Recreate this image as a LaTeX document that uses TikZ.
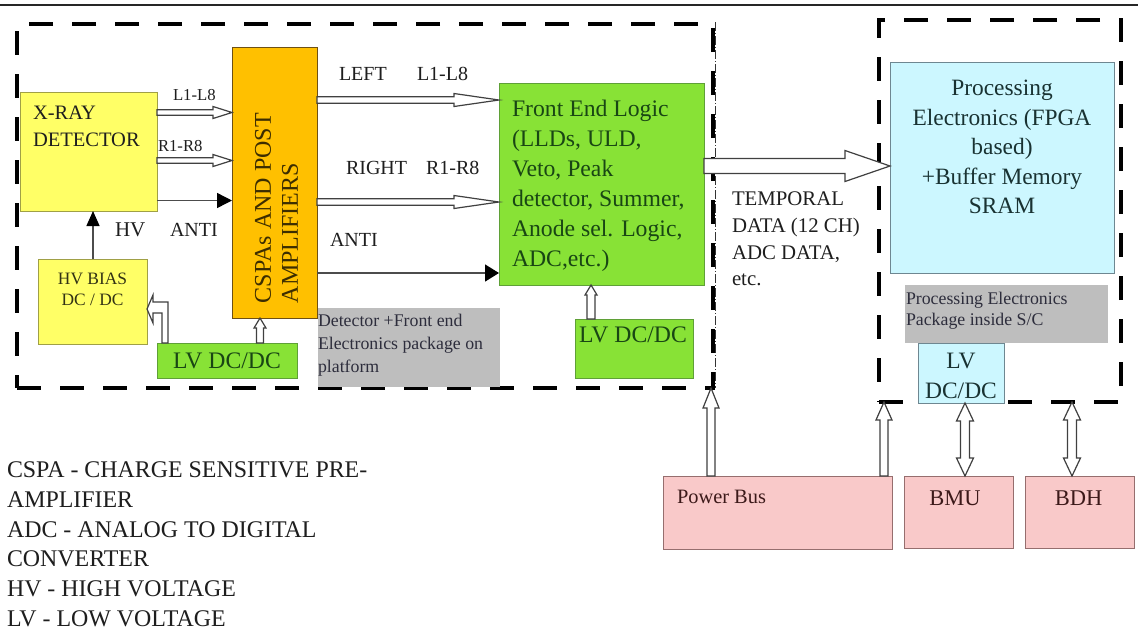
\documentclass[tikz,border=0pt]{standalone}
\usepackage{fontspec}
\setmainfont{Liberation Serif}
\usetikzlibrary{calc,arrows.meta}
\definecolor{cyel}{RGB}{255,255,102}
\definecolor{cyelb}{RGB}{160,160,70}
\definecolor{corange}{RGB}{255,192,0}
\definecolor{corangeb}{RGB}{110,80,20}
\definecolor{cgreen}{RGB}{136,226,54}
\definecolor{cgreenb}{RGB}{95,160,55}
\definecolor{ccyan}{RGB}{204,247,255}
\definecolor{ccyanb}{RGB}{110,135,145}
\definecolor{cpink}{RGB}{249,201,201}
\definecolor{cpinkb}{RGB}{150,110,110}
\definecolor{cgray}{RGB}{190,190,190}
\definecolor{tdark}{RGB}{30,30,30}
\definecolor{tyel}{RGB}{50,50,20}
\definecolor{torange}{RGB}{60,45,0}
\definecolor{tgreen}{RGB}{25,70,20}
\definecolor{tcyan}{RGB}{25,50,50}
\definecolor{tgrey}{RGB}{45,45,60}
\definecolor{tpink}{RGB}{60,25,25}
\newcommand{\myfs}[2]{\fontsize{#1pt}{#2pt}\selectfont}
% hollow arrow: start, end, shaft half width, head half width, head length
\newcommand{\harr}[5]{%
  \coordinate (hb) at ($(#2)!#5!(#1)$);
  \draw[harrow] ($(#1)!#3!90:(#2)$) -- ($(hb)!#3!90:(#2)$) -- ($(hb)!#4!90:(#2)$) -- (#2)
    -- ($(hb)!#4!-90:(#2)$) -- ($(hb)!#3!-90:(#2)$) -- ($(#1)!#3!-90:(#2)$) -- cycle;}
% hollow double arrow
\newcommand{\dharr}[5]{%
  \coordinate (hba) at ($(#1)!#5!(#2)$);
  \coordinate (hbb) at ($(#2)!#5!(#1)$);
  \draw[harrow] (#1) -- ($(hba)!#4!90:(#2)$) -- ($(hba)!#3!90:(#2)$) -- ($(hbb)!#3!90:(#2)$)
    -- ($(hbb)!#4!90:(#2)$) -- (#2) -- ($(hbb)!#4!-90:(#2)$) -- ($(hbb)!#3!-90:(#2)$)
    -- ($(hba)!#3!-90:(#2)$) -- ($(hba)!#4!-90:(#2)$) -- cycle;}
\tikzset{
  bx/.style={line width=0.9pt, inner sep=0pt, outer sep=0pt, anchor=north west},
  ybox/.style={bx, fill=cyel, draw=cyelb},
  obox/.style={bx, fill=corange, draw=corangeb},
  gbox/.style={bx, fill=cgreen, draw=cgreenb},
  cbox/.style={bx, fill=ccyan, draw=ccyanb},
  pbox/.style={bx, fill=cpink, draw=cpinkb},
  greybox/.style={fill=cgray, inner sep=0pt, outer sep=0pt, anchor=north west},
  dbox/.style={draw=black, line width=3.5pt, dash pattern=on 24pt off 19pt,
    inner sep=0pt, outer sep=0pt, anchor=north west},
  dashdotline/.style={draw=black!80, line width=0.7pt, dash pattern=on 9pt off 2pt on 1pt off 2pt},
  tx/.style={inner sep=0pt, outer sep=0pt, align=left, anchor=north west, text=tdark},
  harrow/.style={draw=black!75, fill=white, line width=1.2pt, line join=miter},
  farrow/.style={draw=black!70, line width=1.4pt, -{Triangle[length=15pt,width=15pt,color=black]}},
}
\begin{document}
\begin{tikzpicture}[x=1pt,y=-1pt]
\useasboundingbox (0,0) rectangle (1138,633);
\fill[white] (0,0) rectangle (1138,633);
\draw[line width=1.6pt, black!85] (0,5) -- (1138,5);

% dashed packages
\node[dbox, minimum width=696pt, minimum height=364pt] (lbox) at (17,24) {};
\node[dbox, minimum width=242pt, minimum height=382pt] (rbox) at (879,20) {};
\draw[dashdotline] ($(lbox.north east)+(2,-2)$) -- ($(lbox.south east)+(2,0)$);

% boxes
\node[ybox, minimum width=137pt, minimum height=119pt] (xray) at (20,92) {};
\node[obox, minimum width=85pt, minimum height=271pt] (cspa) at (232,47) {};
\node[ybox, minimum width=109pt, minimum height=85pt] (hvb) at (38,259) {};
\node[gbox, minimum width=140pt, minimum height=35pt] (lvl) at (157,343) {};
\node[greybox, minimum width=182pt, minimum height=79pt] (pk1) at (318,308) {};
\node[gbox, minimum width=205pt, minimum height=202pt] (fel) at (499,83) {};
\node[gbox, minimum width=118pt, minimum height=59pt] (lvm) at (575,319) {};
\node[cbox, minimum width=224pt, minimum height=211pt] (proc) at (890,62) {};
\node[greybox, minimum width=203pt, minimum height=58pt] (pk2) at (905,285) {};
\node[cbox, minimum width=86pt, minimum height=60pt] (lvr) at (918,343) {};
\node[pbox, minimum width=229pt, minimum height=73pt] (pbus) at (663,476) {};
\node[pbox, minimum width=109pt, minimum height=72pt] (bmu) at (904,476) {};
\node[pbox, minimum width=109pt, minimum height=72pt] (bdh) at (1025,476) {};

% texts
\node[tx, font=\myfs{20.5}{27}] (txray) at (33,106) {X-RAY\\DETECTOR};
\node[tx, font=\myfs{16.7}{20}] (tl18) at (173,89) {L1-L8};
\node[tx, font=\myfs{16.7}{20}] (tr18) at (158,140) {R1-R8};
\node[tx, font=\myfs{21}{25}] (thv) at (115,223) {HV};
\node[tx, font=\myfs{20}{24}] (tanti1) at (170,223) {ANTI};
\node[tx, anchor=north, align=center, font=\myfs{17.4}{21}, text=tyel] (thvb) at (92.5,273) {HV BIAS\\DC / DC};
\node[tx, anchor=north, font=\myfs{23.7}{28}, text=tgreen] (tlvl) at (227,353) {LV DC/DC};
\node[tx, rotate=90, font=\myfs{24}{27}, text=torange] (tcspa) at (255,303) {CSPAs AND POST\\AMPLIFIERS};
\node[tx, font=\myfs{20}{24}] (tleft) at (339,67) {LEFT};
\node[tx, font=\myfs{20}{24}] (tl18b) at (417,67) {L1-L8};
\node[tx, font=\myfs{20}{24}] (tright) at (346,161) {RIGHT};
\node[tx, font=\myfs{20}{24}] (tr18b) at (426,161) {R1-R8};
\node[tx, font=\myfs{20}{24}] (tanti2) at (330,233) {ANTI};
\node[tx, font=\myfs{23.7}{30}, text=tgreen] (tfel) at (512,100) {Front End Logic\\(LLDs, ULD,\\Veto, Peak\\detector, Summer,\\Anode sel. Logic,\\ADC,etc.)};
\node[tx, font=\myfs{17.8}{23}, text=tgrey] (tpk1) at (318,314) {Detector +Front end\\Electronics package on\\platform};
\node[tx, anchor=north, font=\myfs{23.7}{28}, text=tgreen] (tlvm) at (633,327) {LV DC/DC};
\node[tx, font=\myfs{20.8}{26.7}] (ttemp) at (732,192) {TEMPORAL\\DATA (12 CH)\\ADC DATA,\\etc.};
\node[tx, anchor=north, align=center, font=\myfs{23.4}{29.5}, text=tcyan] (tproc) at (1002,80) {Processing\\Electronics (FPGA\\based)\\+Buffer Memory\\SRAM};
\node[tx, font=\myfs{17.8}{21.5}, text=tgrey] (tpk2) at (906,292) {Processing Electronics\\Package inside S/C};
\node[tx, anchor=north, align=center, font=\myfs{23.5}{30}, text=tcyan] (tlvr) at (961,353) {LV\\DC/DC};
\node[tx, font=\myfs{20.4}{24}, text=tpink] (tpbus) at (677,490) {Power Bus};
\node[tx, anchor=north, font=\myfs{22.5}{26}, text=tpink] (tbmu) at (955,491) {BMU};
\node[tx, anchor=north, font=\myfs{22.5}{26}, text=tpink] (tbdh) at (1078.5,491) {BDH};
\node[tx, font=\myfs{23.9}{29.7}] (tleg) at (7,462) {CSPA - CHARGE SENSITIVE PRE-\\AMPLIFIER\\ADC - ANALOG TO DIGITAL\\CONVERTER\\HV - HIGH VOLTAGE\\LV - LOW VOLTAGE};

% helper coordinates
\coordinate (hL) at (0,112.5);
\coordinate (hR) at (0,160.5);
\coordinate (hA) at (0,200.5);
\coordinate (vHV) at (93,0);
\coordinate (hL2) at (0,100);
\coordinate (hR2) at (0,202);
\coordinate (hA2) at (0,273);
\coordinate (vC) at (260,0);
\coordinate (vF) at (591,0);
\coordinate (hT) at (0,166);
\coordinate (vP1) at (711,0);
\coordinate (vP2) at (884,0);
\coordinate (vB1) at (965,0);
\coordinate (vB2) at (1072,0);

% connectors
\coordinate (a1s) at (xray.east |- hL); \coordinate (a1e) at (cspa.west |- hL);
\harr{a1s}{a1e}{2.8pt}{6pt}{19pt}
\coordinate (a2s) at (xray.east |- hR); \coordinate (a2e) at (cspa.west |- hR);
\harr{a2s}{a2e}{2.8pt}{6pt}{19pt}
\draw[farrow] (xray.east |- hA) -- (cspa.west |- hA);
\draw[farrow, -{Triangle[length=15pt,width=13pt,color=black]}] (hvb.north -| vHV) -- (xray.south -| vHV);

\coordinate (a3s) at (cspa.east |- hL2); \coordinate (a3e) at (fel.west |- hL2);
\harr{a3s}{a3e}{3.3pt}{6.5pt}{45pt}
\coordinate (a4s) at (cspa.east |- hR2); \coordinate (a4e) at (fel.west |- hR2);
\harr{a4s}{a4e}{3.3pt}{6.5pt}{45pt}
\draw[farrow, -{Triangle[length=14pt,width=17pt,color=black]}] (cspa.east |- hA2) -- (fel.west |- hA2);

\coordinate (a5s) at (lvl.north -| vC); \coordinate (a5e) at (cspa.south -| vC);
\harr{a5s}{a5e}{3.5pt}{6pt}{10pt}
\coordinate (a6s) at (lvm.north -| vF); \coordinate (a6e) at (fel.south -| vF);
\harr{a6s}{a6e}{4pt}{6pt}{10pt}

% bent arrow LV DC/DC -> HV BIAS
\coordinate (bt) at ($(hvb.east)+(0,7.5)$);
\draw[harrow] ($(lvl.north west)+(5,0)$) -- ++(0,-30) -- ++(-9,0) -- ++(0,10) -- (bt)
  -- ++(6,-14) -- ++(0,7) -- ++(15,0) -- ++(0,41) -- cycle;

\coordinate (a7s) at (fel.east |- hT); \coordinate (a7e) at (proc.west |- hT);
\harr{a7s}{a7e}{7.5pt}{15.5pt}{45pt}

\coordinate (a8s) at (pbus.north -| vP1); \coordinate (a8e) at (lbox.south -| vP1);
\harr{a8s}{a8e}{4pt}{8pt}{20pt}
\coordinate (a9s) at (pbus.north -| vP2); \coordinate (a9e) at (rbox.south -| vP2);
\harr{a9s}{a9e}{4pt}{8pt}{18pt}

\coordinate (b1s) at (lvr.south -| vB1); \coordinate (b1e) at (bmu.north -| vB1);
\dharr{b1s}{b1e}{4.5pt}{8.5pt}{18pt}
\coordinate (b2s) at (rbox.south -| vB2); \coordinate (b2e) at (bdh.north -| vB2);
\dharr{b2s}{b2e}{4.5pt}{8.5pt}{18pt}
\end{tikzpicture}
\end{document}
